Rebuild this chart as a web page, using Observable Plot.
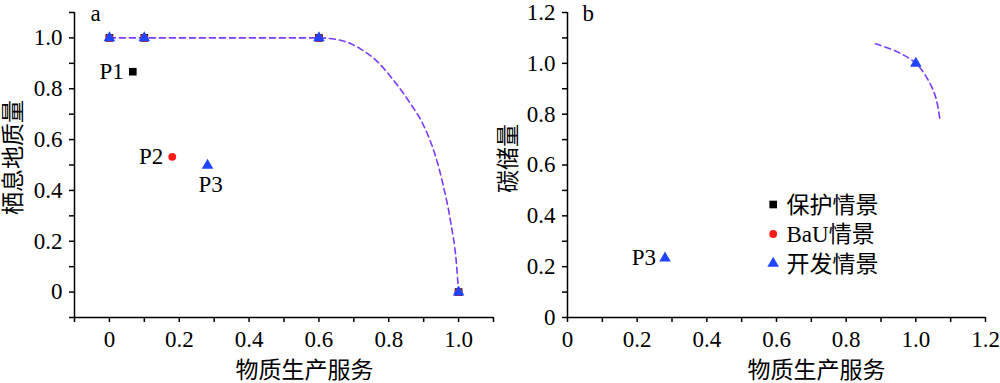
<!DOCTYPE html>
<html>
<head>
<meta charset="utf-8">
<script src="https://cdn.jsdelivr.net/npm/d3@7"></script>
<script src="https://cdn.jsdelivr.net/npm/@observablehq/plot@0.6"></script>
<style>
  html, body { margin: 0; padding: 0; background: #fff; }
  #wrap { display: flex; width: 1000px; height: 383px; }
</style>
</head>
<body>
<div id="wrap"></div>
<script>
// ---------- Data ----------
// Panel a: 物质生产服务 vs 栖息地质量
const curveAX = [0, 0.1, 0.6, 0.67, 0.72, 0.765, 0.81, 0.86, 0.9, 0.935, 0.955, 0.978, 0.993, 1.0];
const curveAY = [1, 1, 1, 0.988, 0.956, 0.91, 0.84, 0.746, 0.655, 0.53, 0.426, 0.27, 0.125, 0];
const consAX = [0, 0.1, 0.6, 1.0, 0.067];   // 保护情景 (P1)
const consAY = [1, 1, 1, 0, 0.867];
const bauAX  = [0, 0.1, 0.6, 1.0, 0.18];    // BaU情景 (P2)
const bauAY  = [1, 1, 1, 0, 0.532];
const devAX  = [0, 0.1, 0.6, 1.0, 0.281];   // 开发情景 (P3)
const devAY  = [1, 1, 1, 0, 0.498];
const ptLabelsA = ["P1", "P2", "P3"];

// Panel b: 物质生产服务 vs 碳储量
const curveBX = [0.884, 0.947, 1.0, 1.033, 1.057, 1.07];
const curveBY = [1.077, 1.045, 1.0, 0.94, 0.867, 0.77];
const devBX = [1.0, 0.28];
const devBY = [1.0, 0.233];
const ptLabelsB = ["P3"];

// Ticks
const majorTicksA = [0, 0.2, 0.4, 0.6, 0.8, 1.0];
const majorLabelsA = ["0", "0.2", "0.4", "0.6", "0.8", "1.0"];
const minorTicksA = [-0.1, 0.1, 0.3, 0.5, 0.7, 0.9, 1.1];
const majorTicksB = [0, 0.2, 0.4, 0.6, 0.8, 1.0, 1.2];
const majorLabelsB = ["0", "0.2", "0.4", "0.6", "0.8", "1.0", "1.2"];
const minorTicksB = [0.1, 0.3, 0.5, 0.7, 0.9, 1.1];

// Text
const xTitle = "物质生产服务";
const yTitleA = "栖息地质量";
const yTitleB = "碳储量";
const legendNames = ["保护情景", "BaU情景", "开发情景"];
const legendSymbols = ["square", "circle", "triangle"];
const legendColors = ["#000000", "#ff1a1a", "#1f45ff"];
const lineColor = "#7b3cff";

// ---------- Helpers ----------
const FONT = '"Liberation Serif", "Times New Roman", "Noto Sans CJK SC", serif';
const toRows = (xs, ys) => xs.map((x, i) => ({x, y: ys[i]}));
const fmt = (ticks, labels) => d => {
  const i = ticks.findIndex(t => Math.abs(t - d) < 1e-9);
  return i >= 0 ? labels[i] : "";
};
const symR = {square: 4.3, circle: 3.9, triangle: 4.3};

function axes(major, labels, minor) {
  const common = {tickSize: 5, strokeWidth: 1.5, fontSize: 23, label: null};
  return [
    Plot.axisX({...common, ticks: major, tickFormat: fmt(major, labels), tickPadding: 8}),
    Plot.axisX({...common, ticks: minor, tickFormat: () => ""}),
    Plot.axisY({...common, ticks: major, tickFormat: fmt(major, labels), tickPadding: 7}),
    Plot.axisY({...common, ticks: minor, tickFormat: () => ""})
  ];
}

// ---------- Panel a ----------
const consA = toRows(consAX, consAY);
const bauA = toRows(bauAX, bauAY);
const devA = toRows(devAX, devAY);
const labA = [consA[4], bauA[4], devA[4]].map((d, i) => ({...d, label: ptLabelsA[i]}));

const plotA = Plot.plot({
  width: 500, height: 383,
  marginLeft: 74, marginRight: 7, marginTop: 12, marginBottom: 66,
  style: {fontFamily: FONT, color: "black", background: "white", overflow: "visible"},
  x: {domain: [-0.1, 1.1]},
  y: {domain: [-0.1, 1.1]},
  marks: [
    ...axes(majorTicksA, majorLabelsA, minorTicksA),
    Plot.ruleX([-0.1], {stroke: "black", strokeWidth: 1.5}),
    Plot.ruleY([-0.1], {stroke: "black", strokeWidth: 1.5}),
    Plot.line(toRows(curveAX, curveAY), {x: "x", y: "y", stroke: lineColor, strokeWidth: 1.6, strokeDasharray: "6,4", curve: "monotone-x"}),
    Plot.dot(consA, {x: "x", y: "y", symbol: "square", fill: legendColors[0], r: symR.square}),
    Plot.dot(bauA, {x: "x", y: "y", symbol: "circle", fill: legendColors[1], r: symR.circle}),
    Plot.dot(devA, {x: "x", y: "y", symbol: "triangle", fill: legendColors[2], r: symR.triangle}),
    Plot.text(labA.slice(0, 2), {x: "x", y: "y", text: "label", textAnchor: "end", dx: -9, fontSize: 23, fill: "black"}),
    Plot.text(labA.slice(2), {x: "x", y: "y", text: "label", dx: 3, dy: 19, fontSize: 23, fill: "black"}),
    Plot.text(["a"], {frameAnchor: "top-left", text: d => d, textAnchor: "start", lineAnchor: "middle", dx: 16, dy: 1, fontSize: 23, fill: "black"}),
    Plot.text([xTitle], {frameAnchor: "bottom", text: d => d, textAnchor: "middle", lineAnchor: "middle", dx: 20.5, dy: 53, fontSize: 23, fill: "black"}),
    Plot.text([yTitleA], {frameAnchor: "left", text: d => d, rotate: -90, textAnchor: "middle", lineAnchor: "middle", dx: -61, dy: -7.5, fontSize: 23, fill: "black"})
  ]
});

// ---------- Panel b ----------
const devB = toRows(devBX, devBY);
const labB = [{...devB[1], label: ptLabelsB[0]}];
const legendMarks = legendNames.flatMap((name, i) => [
  Plot.dot([name], {frameAnchor: "top-left", symbol: legendSymbols[i], fill: legendColors[i], r: symR[legendSymbols[i]], dx: 205.7, dy: 192 + 29.5 * i}),
  Plot.text([name], {frameAnchor: "top-left", text: d => d, textAnchor: "start", lineAnchor: "middle", dx: 219, dy: 193 + 29.5 * i, fontSize: 23, fill: "black"})
]);

const plotB = Plot.plot({
  width: 500, height: 383,
  marginLeft: 67, marginRight: 15, marginTop: 12, marginBottom: 66,
  style: {fontFamily: FONT, color: "black", background: "white", overflow: "visible"},
  x: {domain: [0, 1.2]},
  y: {domain: [0, 1.2]},
  marks: [
    ...axes(majorTicksB, majorLabelsB, minorTicksB),
    Plot.ruleX([0], {stroke: "black", strokeWidth: 1.5}),
    Plot.ruleY([0], {stroke: "black", strokeWidth: 1.5}),
    Plot.line(toRows(curveBX, curveBY), {x: "x", y: "y", stroke: lineColor, strokeWidth: 1.6, strokeDasharray: "6,4", curve: "catmull-rom"}),
    Plot.dot(devB, {x: "x", y: "y", symbol: "triangle", fill: legendColors[2], r: symR.triangle}),
    Plot.text(labB, {x: "x", y: "y", text: "label", textAnchor: "end", dx: -9, dy: -1, fontSize: 23, fill: "black"}),
    ...legendMarks,
    Plot.text(["b"], {frameAnchor: "top-left", text: d => d, textAnchor: "start", lineAnchor: "middle", dx: 15, dy: 1, fontSize: 23, fill: "black"}),
    Plot.text([xTitle], {frameAnchor: "bottom", text: d => d, textAnchor: "middle", lineAnchor: "middle", dx: 40, dy: 53, fontSize: 23, fill: "black"}),
    Plot.text([yTitleB], {frameAnchor: "left", text: d => d, rotate: -90, textAnchor: "middle", lineAnchor: "middle", dx: -59, dy: -6.5, fontSize: 23, fill: "black"})
  ]
});

document.getElementById("wrap").append(plotA, plotB);
</script>
</body>
</html>
